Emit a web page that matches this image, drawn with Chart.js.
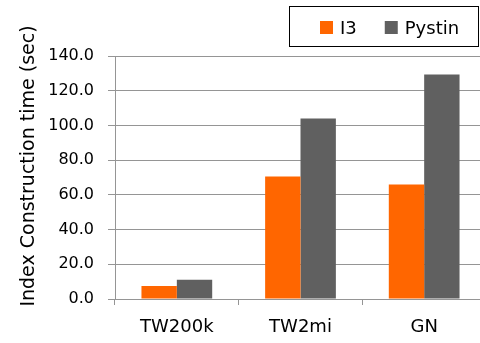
<!DOCTYPE html>
<html>
<head>
<meta charset="utf-8">
<script src="https://cdn.jsdelivr.net/npm/chart.js@4.4.1/dist/chart.umd.min.js"></script>
<style>
  html, body { margin: 0; padding: 0; background: #ffffff; overflow: hidden; }
  #wrap { position: relative; width: 486px; height: 343px; }
</style>
</head>
<body>
<div id="wrap"><canvas id="chart"></canvas></div>
<script>
// Index construction time per dataset
const categories = ['TW200k', 'TW2mi', 'GN'];
const seriesNames = ['I3', 'Pystin'];
const i3Times = [7.5, 70.6, 66.0];
const pystinTimes = [11.1, 104.0, 129.3];
const yAxisTitle = 'Index Construction time (sec)';

const FONT = '"DejaVu Sans", sans-serif';
const GRID = '#959595';

// Rotated axis title and a framed legend, drawn on top of the chart
const decorations = {
  id: 'decorations',
  afterDraw(chart) {
    const ctx = chart.ctx;

    ctx.save();
    ctx.font = '19px ' + FONT;
    ctx.fillStyle = '#000';
    ctx.textAlign = 'center';
    ctx.textBaseline = 'alphabetic';
    ctx.translate(33.5, 166);
    ctx.rotate(-Math.PI / 2);
    ctx.fillText(yAxisTitle, 0, 0);
    ctx.restore();

    ctx.save();
    ctx.strokeStyle = '#000';
    ctx.lineWidth = 1;
    ctx.strokeRect(289.5, 6.5, 189, 40);
    ctx.font = '18px ' + FONT;
    ctx.textAlign = 'left';
    ctx.textBaseline = 'alphabetic';
    let x = 320;
    chart.data.datasets.forEach(ds => {
      ctx.fillStyle = ds.backgroundColor;
      ctx.fillRect(x, 21, 13, 13);
      ctx.fillStyle = '#000';
      ctx.fillText(ds.label, x + 20, 34);
      x += 20 + ctx.measureText(ds.label).width + 28;
    });
    ctx.restore();
  }
};

new Chart(document.getElementById('chart'), {
  type: 'bar',
  data: {
    labels: categories,
    datasets: [
      { label: seriesNames[0], data: i3Times, backgroundColor: '#ff6600' },
      { label: seriesNames[1], data: pystinTimes, backgroundColor: '#606060' }
    ]
  },
  options: {
    responsive: true,
    maintainAspectRatio: false,
    animation: false,
    layout: { padding: { top: 56, right: 0, left: 0, bottom: 0 } },
    datasets: { bar: { categoryPercentage: 0.572, barPercentage: 1.0 } },
    plugins: { legend: { display: false }, tooltip: { enabled: false } },
    scales: {
      x: {
        grid: { offset: true, drawOnChartArea: false, drawTicks: true, tickLength: 6, color: GRID, lineWidth: 1 },
        border: { color: GRID, width: 1 },
        ticks: { color: '#000', font: { family: FONT, size: 18 }, padding: 12, maxRotation: 0 },
        afterFit(scale) { scale.height = 44; }
      },
      y: {
        min: 0,
        max: 140,
        ticks: {
          stepSize: 20,
          color: '#000',
          padding: 14,
          font: { family: FONT, size: 16 },
          callback: v => Number(v).toFixed(1)
        },
        grid: { color: GRID, lineWidth: 1, drawTicks: true, tickLength: 7 },
        border: { color: GRID, width: 1 },
        afterFit(scale) { scale.width = 115; }
      }
    }
  },
  plugins: [decorations]
});
</script>
</body>
</html>
